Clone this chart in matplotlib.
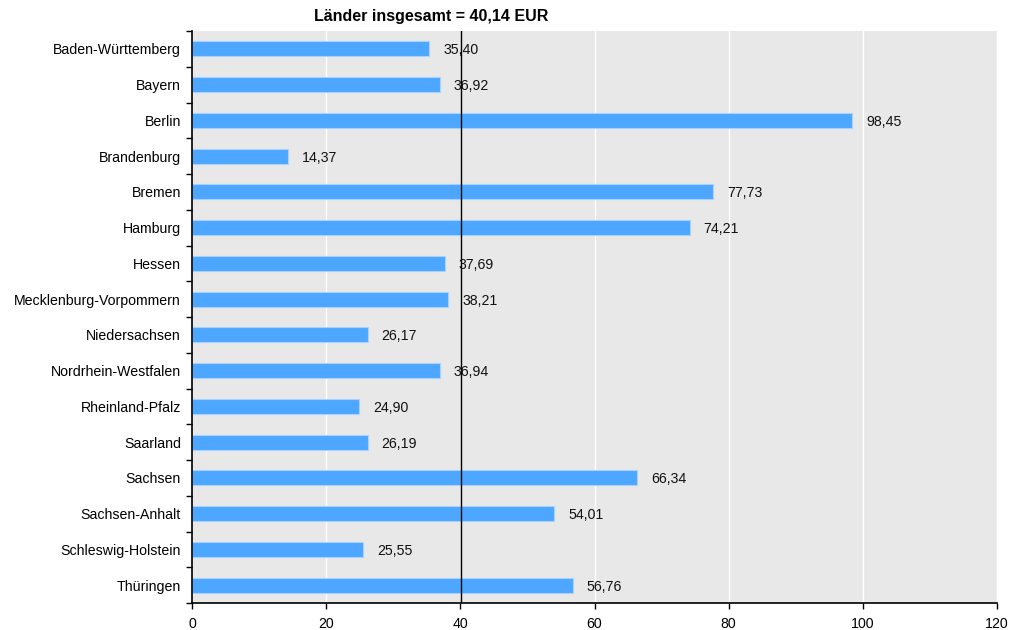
import numpy as np
import matplotlib
matplotlib.use('Agg')
import matplotlib.pyplot as plt
from matplotlib.ticker import FixedLocator

laender = ['Baden-Württemberg', 'Bayern', 'Berlin', 'Brandenburg', 'Bremen',
           'Hamburg', 'Hessen', 'Mecklenburg-Vorpommern', 'Niedersachsen',
           'Nordrhein-Westfalen', 'Rheinland-Pfalz', 'Saarland', 'Sachsen',
           'Sachsen-Anhalt', 'Schleswig-Holstein', 'Thüringen']
werte = [35.40, 36.92, 98.45, 14.37, 77.73, 74.21, 37.69, 38.21, 26.17,
         36.94, 24.90, 26.19, 66.34, 54.01, 25.55, 56.76]
gesamt = 40.14
xticks = [0, 20, 40, 60, 80, 100, 120]

plt.rcParams['font.family'] = ['Liberation Sans', 'DejaVu Sans']
plt.rcParams['font.size'] = 10.2

fig = plt.figure(figsize=(10.27, 6.3), dpi=100)
ax = fig.add_axes([192/1027, 1 - 603/630, (997-192)/1027, (603-31)/630])
ax.set_facecolor('#E8E8E8')

y = np.arange(len(laender))
ax.barh(y, werte, height=0.42, color='#4DA6FF', edgecolor='#A9D3FF',
        linewidth=0.8, zorder=2)

# white grid lines
for t in xticks[1:]:
    if t != 40:
        ax.axvline(t, color='white', lw=1.0, zorder=1)
ax.axvline(gesamt, color='black', lw=1.0, zorder=3)

for yi, v in zip(y, werte):
    ax.annotate(('%.2f' % v).replace('.', ','), (v, yi), xytext=(10, -1),
                textcoords='offset points', va='center', ha='left',
                fontsize=10.2, color='#111111', zorder=4)

ax.set_xlim(0, 120)
ax.set_ylim(len(laender) - 0.5, -0.5)
ax.set_xticks(xticks)
ax.set_xticklabels([str(t) for t in xticks])
ax.set_yticks(y)
ax.set_yticklabels(laender)
ax.yaxis.set_minor_locator(FixedLocator(np.arange(-0.5, len(laender), 1)))
ax.tick_params(axis='y', which='major', length=0, pad=8)
ax.tick_params(axis='y', which='minor', length=4, width=1, direction='out')
ax.tick_params(axis='x', which='major', length=4, width=1, direction='out', pad=6)

ax.spines['top'].set_visible(False)
ax.spines['right'].set_visible(False)
ax.spines['left'].set_linewidth(1.2)
ax.spines['bottom'].set_linewidth(1.2)

fig.text(431/1027, 1 - 16/630, 'Länder insgesamt = 40,14 EUR', ha='center',
         va='center', fontsize=11.5, fontweight='bold')

fig.savefig('out.png', dpi=100)
